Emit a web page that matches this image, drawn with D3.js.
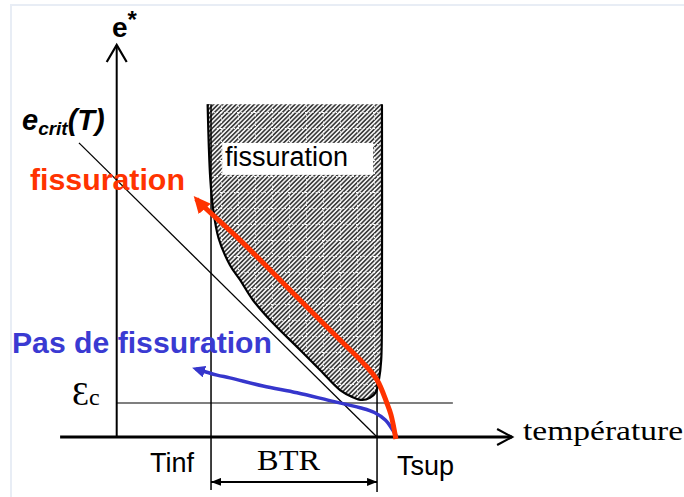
<!DOCTYPE html>
<html><head><meta charset="utf-8">
<script src="https://cdn.jsdelivr.net/npm/d3@7"></script>
<style>body{margin:0;background:#fff}svg{display:block}</style>
</head><body><svg id="c" width="684" height="497"></svg>
<script>
// ---- data: temperature T (arbitrary units), strain e* (in units of eps_c) ----
const T_INF = 25, T_SUP = 69, EPS_C = 1;
const axisTExtent = [-15, 104.8];
const axisEExtent = [0, 11.53];
const ecritLine = [[-10.0, 8.65], [69.0, 0]];
const btrZone = [[24.1,9.79],[24.4,8.6],[24.8,7.6],[25.5,6.75],[27.0,5.85],[30.0,5.06],[32.7,4.62],[36.1,4.03],[41.4,3.35],[47.8,2.65],[53.9,1.97],[59.2,1.38],[62.4,1.18],[65.0,1.09],[67.1,1.15],[68.7,1.32],[69.5,1.68],[70.1,2.26],[70.3,4.03],[70.3,9.79]];
const redPath = [[74.0,-0.06],[72.7,0.65],[71.6,1.0],[69.0,1.68],[65.3,2.18],[59.2,2.85],[52.0,3.65],[43.3,4.62],[32.7,5.79],[22.1,6.88],[21.1,7.0]];
const bluePath = [[74.3,0],[73.2,0.2],[71.2,0.5],[68.3,0.72],[64.5,0.86],[56.5,1.07],[47.8,1.3],[38.8,1.50],[30.0,1.74],[26.6,1.82],[21.0,2.0]];
const tinfLine = [[T_INF, 9.79], [T_INF, -1.56]];
const tsupLine = [[T_SUP, 1.68], [T_SUP, -1.62]];
const epscLine = [[0, EPS_C], [89.1, EPS_C]];
const btrArrow = [[T_INF, -1.32], [T_SUP, -1.32]];
const zoneLabelBox = [[27.96, 8.65], [67.98, 7.71]];

// ---- scales ----
const x = d3.scaleLinear().domain([0, 100]).range([116.7, 494]);
const y = d3.scaleLinear().domain([0, 10]).range([437, 97]);
const line = d3.line().x(d => x(d[0])).y(d => y(d[1]));
const curve = d3.line().x(d => x(d[0])).y(d => y(d[1])).curve(d3.curveCatmullRom.alpha(0.5));

const svg = d3.select('#c');
svg.append('rect').attr('width', 684).attr('height', 497).attr('fill', '#fff');
// faint frame
svg.append('path').attr('d', 'M11,497V5H684').attr('fill', 'none').attr('stroke', '#e8edf5').attr('stroke-width', 2);

const defs = svg.append('defs');
const pat = defs.append('pattern').attr('id', 'hatch').attr('patternUnits', 'userSpaceOnUse')
  .attr('width', 3.2).attr('height', 3.2).attr('patternTransform', 'rotate(45)');
pat.append('rect').attr('width', 3.2).attr('height', 3.2).attr('fill', '#f0f0f0');
pat.append('line').attr('x1', 0.8).attr('y1', 0).attr('x2', 0.8).attr('y2', 3.2).attr('stroke', '#222').attr('stroke-width', 1.4);
const grid = defs.append('pattern').attr('id', 'grid').attr('patternUnits', 'userSpaceOnUse')
  .attr('width', 17).attr('height', 16);
grid.append('path').attr('d', 'M0,0.5H17M0.5,0V16').attr('stroke', '#fff').attr('stroke-width', 1).attr('stroke-dasharray', '1.2,2').attr('fill', 'none');

function marker(id, len, hw, color) {
  defs.append('marker').attr('id', id).attr('viewBox', `${-len} ${-hw} ${len} ${2*hw}`)
    .attr('markerUnits', 'userSpaceOnUse').attr('markerWidth', len).attr('markerHeight', 2*hw)
    .attr('refX', -4).attr('refY', 0).attr('orient', 'auto-start-reverse')
    .append('path').attr('d', `M0,0L${-len},${-hw}L${-len},${hw}Z`).attr('fill', color);
}
marker('redHead', 17, 8, '#ff3300');
marker('blueHead', 13, 6, '#3636cc');
defs.append('marker').attr('id', 'btrHead').attr('viewBox', '-10 -4 10 8')
  .attr('markerUnits', 'userSpaceOnUse').attr('markerWidth', 10).attr('markerHeight', 8)
  .attr('refX', 0).attr('refY', 0).attr('orient', 'auto-start-reverse')
  .append('path').attr('d', 'M0,0L-10,-4L-10,4Z').attr('fill', '#000');

// ---- brittle temperature range zone ----
svg.append('path').attr('d', curve(btrZone) + 'Z').attr('fill', 'url(#hatch)');
svg.append('path').attr('d', curve(btrZone) + 'Z').attr('fill', 'url(#grid)');
svg.append('path').attr('d', curve(btrZone)).attr('fill', 'none').attr('stroke', '#000').attr('stroke-width', 2.2);
svg.append('rect').attr('x', x(zoneLabelBox[0][0])).attr('y', y(zoneLabelBox[0][1]))
  .attr('width', x(zoneLabelBox[1][0]) - x(zoneLabelBox[0][0])).attr('height', y(zoneLabelBox[1][1]) - y(zoneLabelBox[0][1]))
  .attr('fill', '#fff');

// ---- reference lines ----
svg.append('path').attr('d', line(ecritLine)).attr('stroke', '#000').attr('stroke-width', 1.3).attr('fill', 'none');
svg.append('path').attr('d', line(tinfLine)).attr('stroke', '#000').attr('stroke-width', 1.5);
svg.append('path').attr('d', line(tsupLine)).attr('stroke', '#000').attr('stroke-width', 1.5);
svg.append('path').attr('d', line(epscLine)).attr('stroke', '#000').attr('stroke-width', 1.2);
svg.append('path').attr('d', line(btrArrow)).attr('stroke', '#000').attr('stroke-width', 2)
  .attr('marker-start', 'url(#btrHead)').attr('marker-end', 'url(#btrHead)');

// ---- axes ----
const ax0 = [axisTExtent[0], 0], ax1 = [axisTExtent[1], 0];
svg.append('path').attr('d', line([ax0, ax1])).attr('stroke', '#000').attr('stroke-width', 3);
svg.append('path').attr('d', `M${x(ax1[0]) - 15},${y(0) - 8}L${x(ax1[0])},${y(0)}L${x(ax1[0]) - 15},${y(0) + 8}`)
  .attr('fill', 'none').attr('stroke', '#000').attr('stroke-width', 2.2);
svg.append('path').attr('d', line([[0, axisEExtent[0]], [0, axisEExtent[1]]])).attr('stroke', '#000').attr('stroke-width', 2);
svg.append('path').attr('d', `M${x(0) - 10},${y(axisEExtent[1]) + 17}L${x(0)},${y(axisEExtent[1])}L${x(0) + 10},${y(axisEExtent[1]) + 17}`)
  .attr('fill', 'none').attr('stroke', '#000').attr('stroke-width', 2.2);

// ---- strain paths ----
svg.append('path').attr('d', curve(bluePath)).attr('fill', 'none').attr('stroke', '#3636cc')
  .attr('stroke-width', 3.5).attr('marker-end', 'url(#blueHead)');
svg.append('path').attr('d', curve(redPath)).attr('fill', 'none').attr('stroke', '#ff3300')
  .attr('stroke-width', 5).attr('marker-end', 'url(#redHead)');

// ---- labels ----
const sans = 'Liberation Sans, Arial, sans-serif', serif = 'Liberation Serif, Times New Roman, serif';
function txt(t, pos, size, opts = {}) {
  const el = svg.append('text').attr('x', x(pos[0])).attr('y', y(pos[1]))
    .attr('font-family', opts.family || sans).attr('font-size', size)
    .attr('font-weight', opts.weight || 'normal').attr('font-style', opts.style || 'normal')
    .attr('fill', opts.color || '#000').text(t);
  if (opts.len) el.attr('textLength', opts.len).attr('lengthAdjust', 'spacingAndGlyphs');
  return el;
}
txt('fissuration', [28.7, 7.97], 27);
txt('fissuration', [-23.0, 7.26], 30, {weight: 'bold', color: '#ff3300', len: 155});
txt('Pas de fissuration', [-27.75, 2.47], 30, {weight: 'bold', color: '#3a3ad2', len: 260});
txt('Tinf', [8.83, -1.03], 27);
txt('BTR', [37.2, -0.97], 30, {family: serif, len: 63});
txt('Tsup', [74.3, -1.12], 27);
txt('température', [107.7, -0.09], 28, {family: serif, len: 160});

const es = txt('e', [-1.25, 11.76], 28, {weight: 'bold'});
es.append('tspan').attr('font-size', 24).attr('dy', -9).text('*');

const ec = txt('e', [-25.1, 9.03], 29, {weight: 'bold', style: 'italic'});
ec.append('tspan').attr('font-size', 19).attr('dy', 5).text('crit');
ec.append('tspan').attr('dy', -5).text('(T)');

const eps = txt('\u0190', [-11.85, 0.94], 34, {family: serif});
eps.append('tspan').attr('font-size', 24).text('c');
</script></body></html>
